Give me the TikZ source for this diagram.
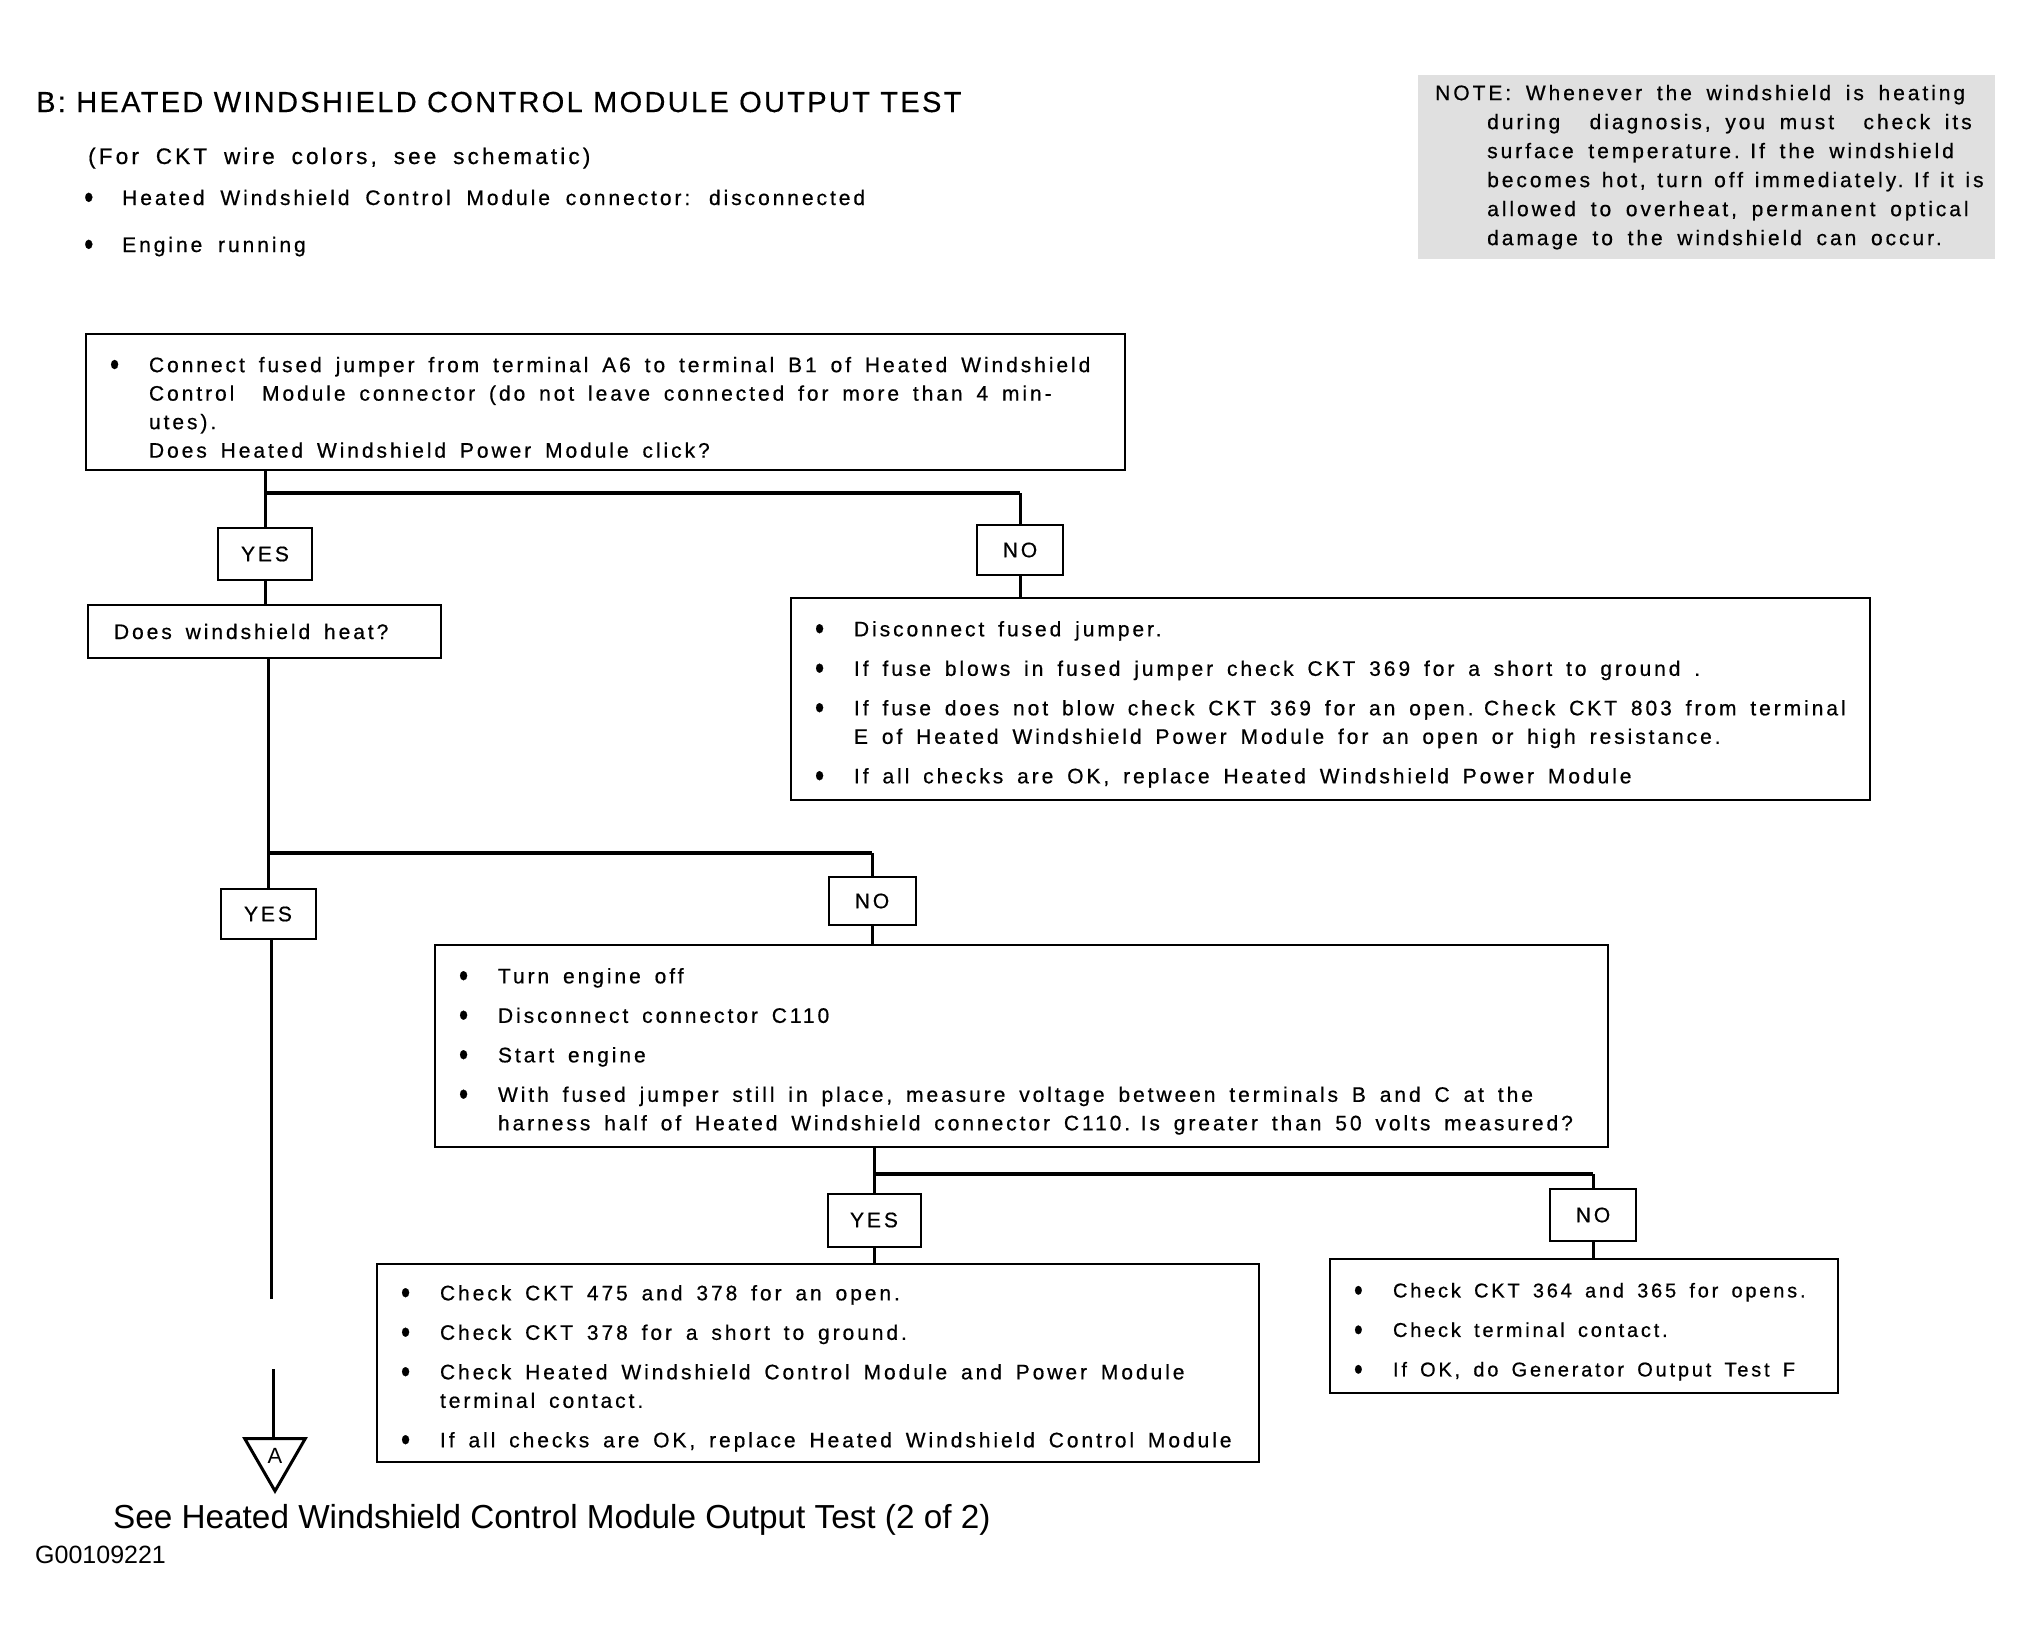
\documentclass[tikz,border=0pt]{standalone}
\usepackage{fontspec}
\usepackage{graphicx}
\setmainfont{Liberation Sans}
\newfontfamily\wide{Liberation Sans}[LetterSpace=14,WordSpace=1.8,FakeBold=0.6]
\newfontfamily\headfont{Liberation Sans}[LetterSpace=8,FakeBold=0.4]
\usetikzlibrary{positioning,shapes.geometric}

\newcommand{\bdot}{\raisebox{-3.5pt}{\scalebox{1.25}[1.6]{\textbullet}}}
\newcommand{\bul}{\makebox[39pt][l]{\bdot}}
\newcommand{\indt}{\hspace*{39pt}}

\begin{document}
\begin{tikzpicture}[x=1pt,y=-1pt,
box/.style={draw,line width=2pt,anchor=north west,align=left,inner xsep=24pt,inner ysep=0pt,font=\wide\fontsize{21}{28.5}\selectfont,execute at begin node={\spaceskip=0.66em\relax}},
tall/.style={execute at begin node={\spaceskip=0.66em\relax\rule{0pt}{26pt}}},
tag/.style={draw,line width=2pt,inner sep=0pt,font=\wide\fontsize{21}{24}\selectfont},
txt/.style={anchor=base west,inner sep=0pt},
link/.style={line width=3pt},
bar/.style={line width=4.5pt}]
\useasboundingbox (0,0) rectangle (2031,1638);
% header
\node[txt,font=\headfont\fontsize{29}{34}\selectfont] (ttl) at (36,112) {B: HEATED WINDSHIELD CONTROL MODULE OUTPUT TEST};
\node[txt,font=\wide\fontsize{22.5}{26}\selectfont] (sub) at (88,164) {(For CKT wire colors, see schematic)};
\node[txt,font=\wide\fontsize{21}{24}\selectfont] (h1) at (84,205) {\makebox[38pt][l]{\bdot}Heated Windshield Control Module connector: disconnected};
\node[txt,font=\wide\fontsize{21}{24}\selectfont] (h2) at (84,252) {\makebox[38pt][l]{\bdot}Engine running};
\node[anchor=north west,fill=black!12,minimum width=577pt,minimum height=184pt,text width=561pt,inner xsep=8pt,inner ysep=0pt,align=left,font=\wide\fontsize{21}{29}\selectfont,execute at begin node={\spaceskip=0.7em\relax}] (k) at (1418,75) {\mbox{\hspace*{9pt}NOTE: Whenever the windshield is heating}\\
\mbox{\hspace*{61pt}during\ \ diagnosis, you must\ \ check its}\\
\mbox{\hspace*{61pt}surface temperature. If the windshield}\\
\mbox{\spaceskip=0.56em\relax\hspace*{61pt}becomes hot, turn off immediately. If it is}\\
\mbox{\hspace*{61pt}allowed to overheat, permanent optical}\\
\mbox{\hspace*{61pt}damage to the windshield can occur.}};
% boxes
\node[box,tall,text width=991pt,minimum height=136pt] (a) at (85,333) {\bul Connect fused jumper from terminal A6 to terminal B1 of Heated Windshield\\
\indt Control\ \ Module connector (do not leave connected for more than 4 min-\\
\indt utes).\\
\indt Does Heated Windshield Power Module click?};
\node[box,inner xsep=26pt,text width=301pt,minimum height=53pt] (b) at (87,604) {Does windshield heat?};
\node[box,tall,text width=1031pt,minimum height=202pt] (c) at (790,597) {\bul Disconnect fused jumper.\\[11pt]
\bul If fuse blows in fused jumper check CKT 369 for a short to ground .\\[11pt]
\bul If fuse does not blow check CKT 369 for an open. Check CKT 803 from terminal\\
\indt E of Heated Windshield Power Module for an open or high resistance.\\[11pt]
\bul If all checks are OK, replace Heated Windshield Power Module};
\node[box,tall,text width=1125pt,minimum height=202pt] (d) at (434,944) {\bul Turn engine off\\[11pt]
\bul Disconnect connector C110\\[11pt]
\bul Start engine\\[11pt]
\bul With fused jumper still in place, measure voltage between terminals B and C at the\\
\indt harness half of Heated Windshield connector C110. Is greater than 50 volts measured?};
\node[box,tall,text width=834pt,minimum height=198pt] (e) at (376,1263) {\bul Check CKT 475 and 378 for an open.\\[11pt]
\bul Check CKT 378 for a short to ground.\\[11pt]
\bul Check Heated Windshield Control Module and Power Module\\
\indt terminal contact.\\[11pt]
\bul If all checks are OK, replace Heated Windshield Control Module};
\node[box,tall,text width=460pt,minimum height=134pt,font=\wide\fontsize{20}{28.5}\selectfont] (f) at (1329,1258) {\mbox{\bul Check CKT 364 and 365 for opens.}\\[11pt]
\mbox{\bul Check terminal contact.}\\[11pt]
\mbox{\bul If OK, do Generator Output Test F}};
% yes / no tags
\node[tag,minimum width=94pt,minimum height=52pt] (y1) at (265,554) {YES};
\node[tag,minimum width=86pt,minimum height=50pt] (n1) at (1020,550) {NO};
\node[tag,minimum width=95pt,minimum height=50pt] (y2) at (268,914) {YES};
\node[tag,minimum width=87pt,minimum height=48pt] (n2) at (872,901) {NO};
\node[tag,minimum width=93pt,minimum height=53pt] (y3) at (874,1220) {YES};
\node[tag,minimum width=86pt,minimum height=52pt] (n3) at (1593,1215) {NO};
\node[draw,line width=3pt,regular polygon,regular polygon sides=3,shape border rotate=180,minimum size=70pt,inner sep=0pt,font=\fontsize{22}{24}\selectfont] (t) at (275,1456) {A};
% junctions
\coordinate (j1) at (265,493);
\coordinate (j2) at (268,853);
\coordinate (j3) at (874,1174);
\coordinate (g1) at (271,1299);
\coordinate (g2) at (273,1369);
% footer
\node[txt,font=\fontsize{33.3}{38}\selectfont] (see) at (113,1528) {See Heated Windshield Control Module Output Test (2 of 2)};
\node[txt,font=\fontsize{25}{30}\selectfont] (id) at (35,1563) {G00109221};
% connectors
\draw[link](a.south -| j1)--(y1);\draw[link](y1)--(b.north -| y1);\draw[bar](j1)--(j1 -| n1);\draw[link](j1 -| n1)--(n1);\draw[link](n1)--(c.north -| n1);
\draw[link](b.south -| j2)--(y2);\draw[bar](j2)--(j2 -| n2);\draw[link](j2 -| n2)--(n2);\draw[link](n2)--(d.north -| n2);
\draw[link](y2.south -| g1)--(g1);\draw[link](g2)--(t.north -| g2);
\draw[link](d.south -| j3)--(y3);\draw[bar](j3)--(j3 -| n3);\draw[link](j3 -| n3)--(n3);\draw[link](y3)--(e.north -| y3);\draw[link](n3)--(f.north -| n3);
\end{tikzpicture}
\end{document}
